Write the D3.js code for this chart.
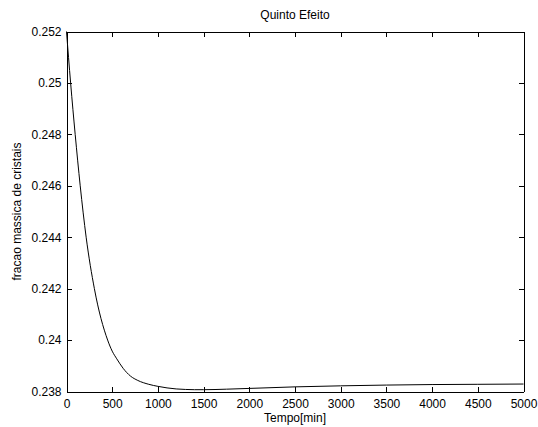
<!DOCTYPE html>
<html>
<head>
<meta charset="utf-8">
<script src="https://d3js.org/d3.v7.min.js"></script>
<style>
  body { margin: 0; background: white; }
  text { font-family: "Liberation Sans", Arial, sans-serif; font-size: 12px; fill: black; }
  .axis path, .axis line { stroke: black; shape-rendering: crispEdges; }
</style>
</head>
<body>
<div id="chart"></div>
<script>
// tempo [min] and mass fraction
var tempo = [0, 45, 95, 150, 215, 305, 450, 500, 550, 620, 700, 780, 900, 1000, 1100, 1200,
             1300, 1400, 1500, 1750, 2000, 2500, 3000, 3500, 4000, 4500, 5000];
var fracao = [0.2520, 0.2500, 0.2480, 0.2460, 0.2440, 0.2420, 0.2400, 0.23957, 0.23927, 0.2389,
              0.2386, 0.23843, 0.23828, 0.2382, 0.23814, 0.2381, 0.23808, 0.23807, 0.23807,
              0.23809, 0.23812, 0.23818, 0.23822, 0.23825, 0.23827, 0.23828, 0.23829];
var xTicks = [0, 500, 1000, 1500, 2000, 2500, 3000, 3500, 4000, 4500, 5000];
var yTicks = [0.238, 0.24, 0.242, 0.244, 0.246, 0.248, 0.25, 0.252];

var width = 538, height = 427;
var margin = {top: 31.5, right: 14.5, bottom: 35.5, left: 66.5};
var w = width - margin.left - margin.right;
var h = height - margin.top - margin.bottom;

var svg = d3.select('#chart').append('svg')
  .attr('width', width)
  .attr('height', height);

var g = svg.append('g')
  .attr('transform', 'translate(' + margin.left + ',' + margin.top + ')');

var x = d3.scaleLinear().domain([0, 5000]).range([0, w]);
var y = d3.scaleLinear().domain([0.238, 0.252]).range([h, 0]);

var fmt = function (d) { return String(+d.toFixed(3)); };

// bottom and left axes with labels, ticks pointing in
g.append('g').attr('class', 'axis')
  .attr('transform', 'translate(0,' + h + ')')
  .call(d3.axisBottom(x).tickValues(xTicks).tickSize(-5).tickSizeOuter(0).tickPadding(8).tickFormat(d3.format('d')));
g.append('g').attr('class', 'axis')
  .call(d3.axisLeft(y).tickValues(yTicks).tickSize(-5).tickSizeOuter(0).tickPadding(5).tickFormat(fmt));
// top and right (box)
g.append('g').attr('class', 'axis')
  .call(d3.axisTop(x).tickValues(xTicks).tickSize(-5).tickSizeOuter(0).tickFormat(''));
g.append('g').attr('class', 'axis')
  .attr('transform', 'translate(' + w + ',0)')
  .call(d3.axisRight(y).tickValues(yTicks).tickSize(-5).tickSizeOuter(0).tickFormat(''));

g.selectAll('.axis text').style('font-size', '12px').style('fill', 'black');

var pts = tempo.map(function (t, i) { return [t, fracao[i]]; });
var line = d3.line()
  .x(function (d) { return x(d[0]); })
  .y(function (d) { return y(d[1]); })
  .curve(d3.curveMonotoneX);

g.append('path')
  .datum(pts)
  .attr('d', line)
  .attr('fill', 'none')
  .attr('stroke', 'black')
  .attr('stroke-width', 1);

svg.append('text')
  .attr('x', margin.left + w / 2)
  .attr('y', 19)
  .attr('text-anchor', 'middle')
  .text('Quinto Efeito');

svg.append('text')
  .attr('x', margin.left + w / 2)
  .attr('y', 422)
  .attr('text-anchor', 'middle')
  .text('Tempo[min]');

svg.append('text')
  .attr('transform', 'translate(21,' + (margin.top + h / 2) + ') rotate(-90)')
  .attr('text-anchor', 'middle')
  .text('fracao massica de cristais');
</script>
</body>
</html>
